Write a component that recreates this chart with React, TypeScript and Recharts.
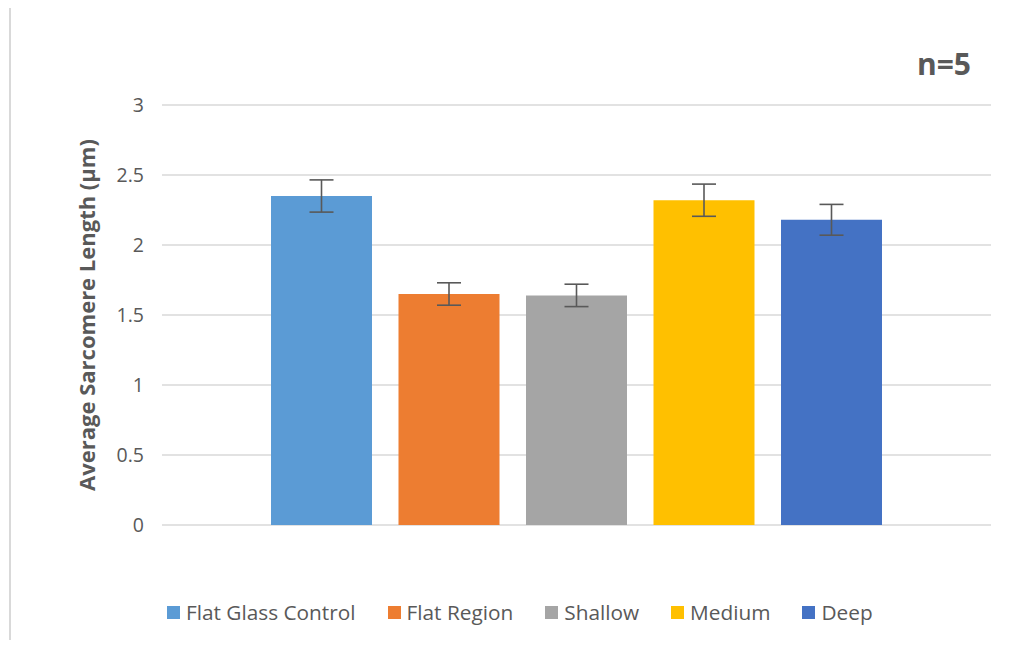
import React from 'react';
import { BarChart, Bar, XAxis, YAxis, CartesianGrid, ErrorBar, Legend } from 'recharts';

const seriesNames = ['Flat Glass Control', 'Flat Region', 'Shallow', 'Medium', 'Deep'];
const seriesValues = [2.35, 1.65, 1.64, 2.32, 2.18];
const seriesErrors = [0.115, 0.08, 0.08, 0.115, 0.11];
const seriesColors = ['#5B9BD5', '#ED7D31', '#A5A5A5', '#FFC000', '#4472C4'];
const yTicks = [0, 0.5, 1, 1.5, 2, 2.5, 3];
const categories = [''];

const row: Record<string, any> = { name: categories[0] };
seriesNames.forEach((_, i) => {
  row['v' + i] = seriesValues[i];
  row['e' + i] = seriesErrors[i];
});
const data = [row];

const FONT = '"Open Sans", Lato, sans-serif';
const TEXT = '#595959';

const LegendContent = () => (
  <div style={{ display: 'flex', alignItems: 'center', fontFamily: FONT, fontSize: 20.8, color: TEXT, lineHeight: '24px' }}>
    {seriesNames.map((n, i) => (
      <div key={n} style={{ display: 'flex', alignItems: 'center', marginRight: 32 }}>
        <div style={{ width: 13, height: 13, background: seriesColors[i], marginRight: 6 }} />
        <span>{n}</span>
      </div>
    ))}
  </div>
);

export default function App() {
  return (
    <div style={{ position: 'relative', width: 1011, height: 648, margin: -8, overflow: 'hidden', background: '#fff' }}>
      <div style={{ position: 'absolute', left: 9, top: 3, width: 1100, height: 700, borderLeft: '2px solid #D9D9D9', borderTop: '2px solid #D9D9D9' }} />
      <div style={{ position: 'absolute', left: 917, top: 46, fontFamily: FONT, fontWeight: 700, fontSize: 30, color: TEXT, lineHeight: '36px' }}>n=5</div>
      <div style={{ position: 'absolute', left: 0, top: 0 }}>
        <BarChart width={1011} height={648} data={data} margin={{ top: 105, right: 20, bottom: 123, left: 0 }} barGap={26.5}>
          <CartesianGrid horizontal vertical={false} stroke="#D9D9D9" strokeWidth={1.5} />
          <XAxis dataKey="name" hide />
          <YAxis
            width={162}
            domain={[0, 3]}
            ticks={yTicks}
            axisLine={false}
            tickLine={false}
            tickSize={0}
            tickMargin={18}
            tick={{ fill: TEXT, fontFamily: FONT, fontSize: 19.5 }}
            label={{
              value: 'Average Sarcomere Length (μm)',
              angle: -90,
              position: 'insideLeft',
              offset: 0,
              dx: 87,
              style: { fill: TEXT, fontFamily: FONT, fontSize: 22, fontWeight: 700, textAnchor: 'middle' },
            }}
          />
          {seriesNames.map((n, i) => (
            <Bar key={n} dataKey={'v' + i} name={n} fill={seriesColors[i]} barSize={101} isAnimationActive={false}>
              <ErrorBar dataKey={'e' + i} width={12} stroke="#595959" strokeWidth={1.6} />
            </Bar>
          ))}
          <Legend
            layout="horizontal"
            verticalAlign="middle"
            align="center"
            content={<LegendContent />}
            wrapperStyle={{ position: 'absolute', top: 600, left: 167, width: 840 }}
          />
        </BarChart>
      </div>
    </div>
  );
}
